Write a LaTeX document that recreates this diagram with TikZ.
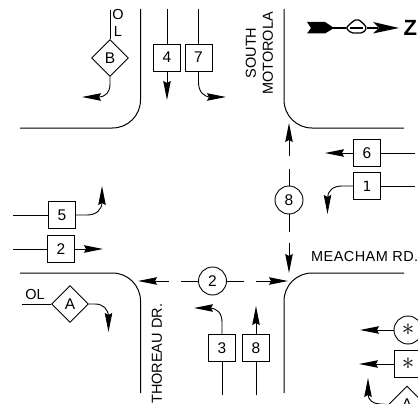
\documentclass[tikz,border=0pt]{standalone}
\usepackage{fontspec}
\setmainfont{Liberation Sans}
\newfontfamily\footfont{DejaVu Sans}
\usetikzlibrary{arrows.meta,shapes.geometric}
\tikzset{
  x=1pt,y=-1pt,
  every node/.style={font=\fontsize{15.5}{17}\selectfont,inner sep=0pt},
  road/.style={draw=black,line width=1pt,rounded corners=28pt},
  wire/.style={draw=black,line width=0.9pt},
  arr/.style={wire,-{Stealth[length=19pt,width=7.5pt,inset=2pt]}},
  sbox/.style={draw=black,line width=0.9pt,rectangle,minimum width=27pt,minimum height=27pt},
  cbox/.style={draw=black,line width=0.9pt,circle,minimum size=28pt},
  dbox/.style={draw=black,line width=0.9pt,diamond,minimum width=37pt,minimum height=37pt},
  lab/.style={font=\fontsize{14.5}{16}\selectfont},
  star/.style={font=\fontsize{25}{25}\selectfont},
}
\begin{document}
\begin{tikzpicture}
\useasboundingbox (0,0) rectangle (418,404);
\clip (0,0) rectangle (418,404);
% road edges
\draw[road] (140.5,9) -- (140.5,128) -- (20,128);
\draw[road] (284,9) -- (284,128) -- (404,128);
\draw[road] (20,273) -- (140.5,273) -- (140.5,393);
\draw[road] (404,273) -- (284,273) -- (284,393);
% street names
\node[lab,rotate=90] (south) at (251,53) {SOUTH};
\node[lab,rotate=90] (motorola) at (268,53.5) {MOTOROLA};
\node[lab,rotate=90,anchor=west] (thoreau) at (157,404) {THOREAU DR.};
\node[lab,anchor=west] (meacham) at (311,257) {\addfontfeature{LetterSpace=3}MEACHAM RD.};
% north arrow
\coordinate (nt) at (333,28);
\coordinate (nh) at (346,28);
\coordinate (nh2) at (367,28);
\coordinate (na) at (399,28);
\fill (307,22) -- (325,22) -- (334,28) -- (325,33.5) -- (307,33.5) -- (311,28) -- cycle;
\draw[line width=1.1pt] (nt) -- (nh);
\draw[line width=1.3pt,rounded corners=2pt] (nh) -- (352,22) -- (357,19) -- (362,22) -- (nh2) -- (363,33) -- (351,33) -- cycle;
\draw[line width=1.1pt] (350,28) -- (363,28);
\draw[line width=1.1pt] (nh2) -- (378,28);
\fill (373,22) -- (na) -- (373,33.5) -- (379,28) -- cycle;
\node[anchor=west,font=\fontsize{22}{24}\selectfont\bfseries] (zed) at (403.5,28) {Z};
% B
\node[dbox] (B) at (110,58) {B};
\coordinate (Bt) at (110,10);
\coordinate (Be) at (82,97);
\draw[wire] (Bt) -- (B.north);
\node[lab] (O) at (118,15) {O};
\node[lab] (L) at (118,32) {L};
\draw[arr] (B.south) -- (110,84) .. controls (110,92) and (106,97) .. (98,97) -- (Be);
% 4, 7
\node[sbox] (b4) at (167,57.5) {4};
\node[sbox] (b7) at (198.5,57.5) {7};
\coordinate (t4) at (167,9);
\coordinate (e4) at (167,100);
\coordinate (t7) at (198.5,9);
\coordinate (e7) at (226,97);
\draw[wire] (t4) -- (b4);
\draw[arr] (b4) -- (e4);
\draw[wire] (t7) -- (b7);
\draw[arr] (b7.south) -- (198.5,82) .. controls (198.5,91) and (203,97) .. (211,97) -- (e7);
% 8 circle
\node[cbox] (c8) at (289,200) {8};
\coordinate (u1) at (289,169);
\coordinate (u2) at (289,156);
\coordinate (u3) at (289,123);
\coordinate (d1) at (289,232);
\coordinate (d2) at (289,243);
\coordinate (d3) at (289,273);
\draw[wire] (c8) -- (u1);
\draw[arr] (u2) -- (u3);
\draw[wire] (c8) -- (d1);
\draw[arr] (d2) -- (d3);
% 6, 1
\node[sbox] (b6) at (367,153) {6};
\node[sbox] (b1) at (367,186) {\footfont\fontsize{14}{16}\selectfont 1};
\coordinate (r6) at (415,153);
\coordinate (r1) at (415,186);
\coordinate (e6) at (325,153);
\coordinate (e1) at (327.5,214);
\draw[wire] (r6) -- (b6);
\draw[arr] (b6) -- (e6);
\draw[wire] (r1) -- (b1);
\draw[arr] (b1.west) -- (342,186) .. controls (333,186) and (327.5,191) .. (327.5,198) -- (e1);
% 2 circle
\node[cbox] (c2) at (212.5,281) {2};
\coordinate (l1) at (181,281);
\coordinate (l2) at (169,281);
\coordinate (l3) at (138,281);
\coordinate (r2a) at (244,281);
\coordinate (r2b) at (256,281);
\coordinate (r2c) at (288,281);
\draw[wire] (c2) -- (l1);
\draw[arr] (l2) -- (l3);
\draw[wire] (c2) -- (r2a);
\draw[arr] (r2b) -- (r2c);
% 5, 2
\node[sbox] (b5) at (62,215) {5};
\node[sbox] (b2) at (61,249) {2};
\coordinate (l5) at (13,215);
\coordinate (l22) at (13,249);
\coordinate (e5) at (102,186);
\coordinate (e2) at (103,249);
\draw[wire] (l5) -- (b5);
\draw[arr] (b5.east) -- (87,215) .. controls (96,215) and (102,210) .. (102,202) -- (e5);
\draw[wire] (l22) -- (b2);
\draw[arr] (b2) -- (e2);
% A
\node[dbox] (A) at (70,304) {A};
\coordinate (lA) at (22,304);
\coordinate (eA) at (108.5,332);
\node[lab] (OLa) at (35,295) {OL};
\draw[wire] (lA) -- (A.west);
\draw[arr] (A.east) -- (95,304) .. controls (103,304) and (108.5,309) .. (108.5,317) -- (eA);
% 3, 8
\node[sbox] (b3) at (222,348) {3};
\node[sbox] (b8) at (256,348) {8};
\coordinate (s3) at (222,395);
\coordinate (s8) at (256,395);
\coordinate (e3) at (194,308);
\coordinate (e8) at (256,306);
\draw[wire] (s3) -- (b3);
\draw[arr] (b3.north) -- (222,322) .. controls (222,313) and (217,308) .. (209,308) -- (e3);
\draw[wire] (s8) -- (b8);
\draw[arr] (b8) -- (e8);
% right edge signals
\node[cbox,star] (cs) at (408,330) {$\ast$};
\node[sbox,star] (bs) at (408,364) {$\ast$};
\node[dbox] (As) at (407,404.5) {A};
\coordinate (ecs) at (360,330);
\coordinate (ebs) at (359,364);
\coordinate (eAs) at (368,378);
\draw[arr] (cs) -- (ecs);
\draw[arr] (bs) -- (ebs);
\draw[arr] (As.west) -- (380,404) .. controls (373,404) and (368,400) .. (368,394) -- (eAs);
\end{tikzpicture}
\end{document}
